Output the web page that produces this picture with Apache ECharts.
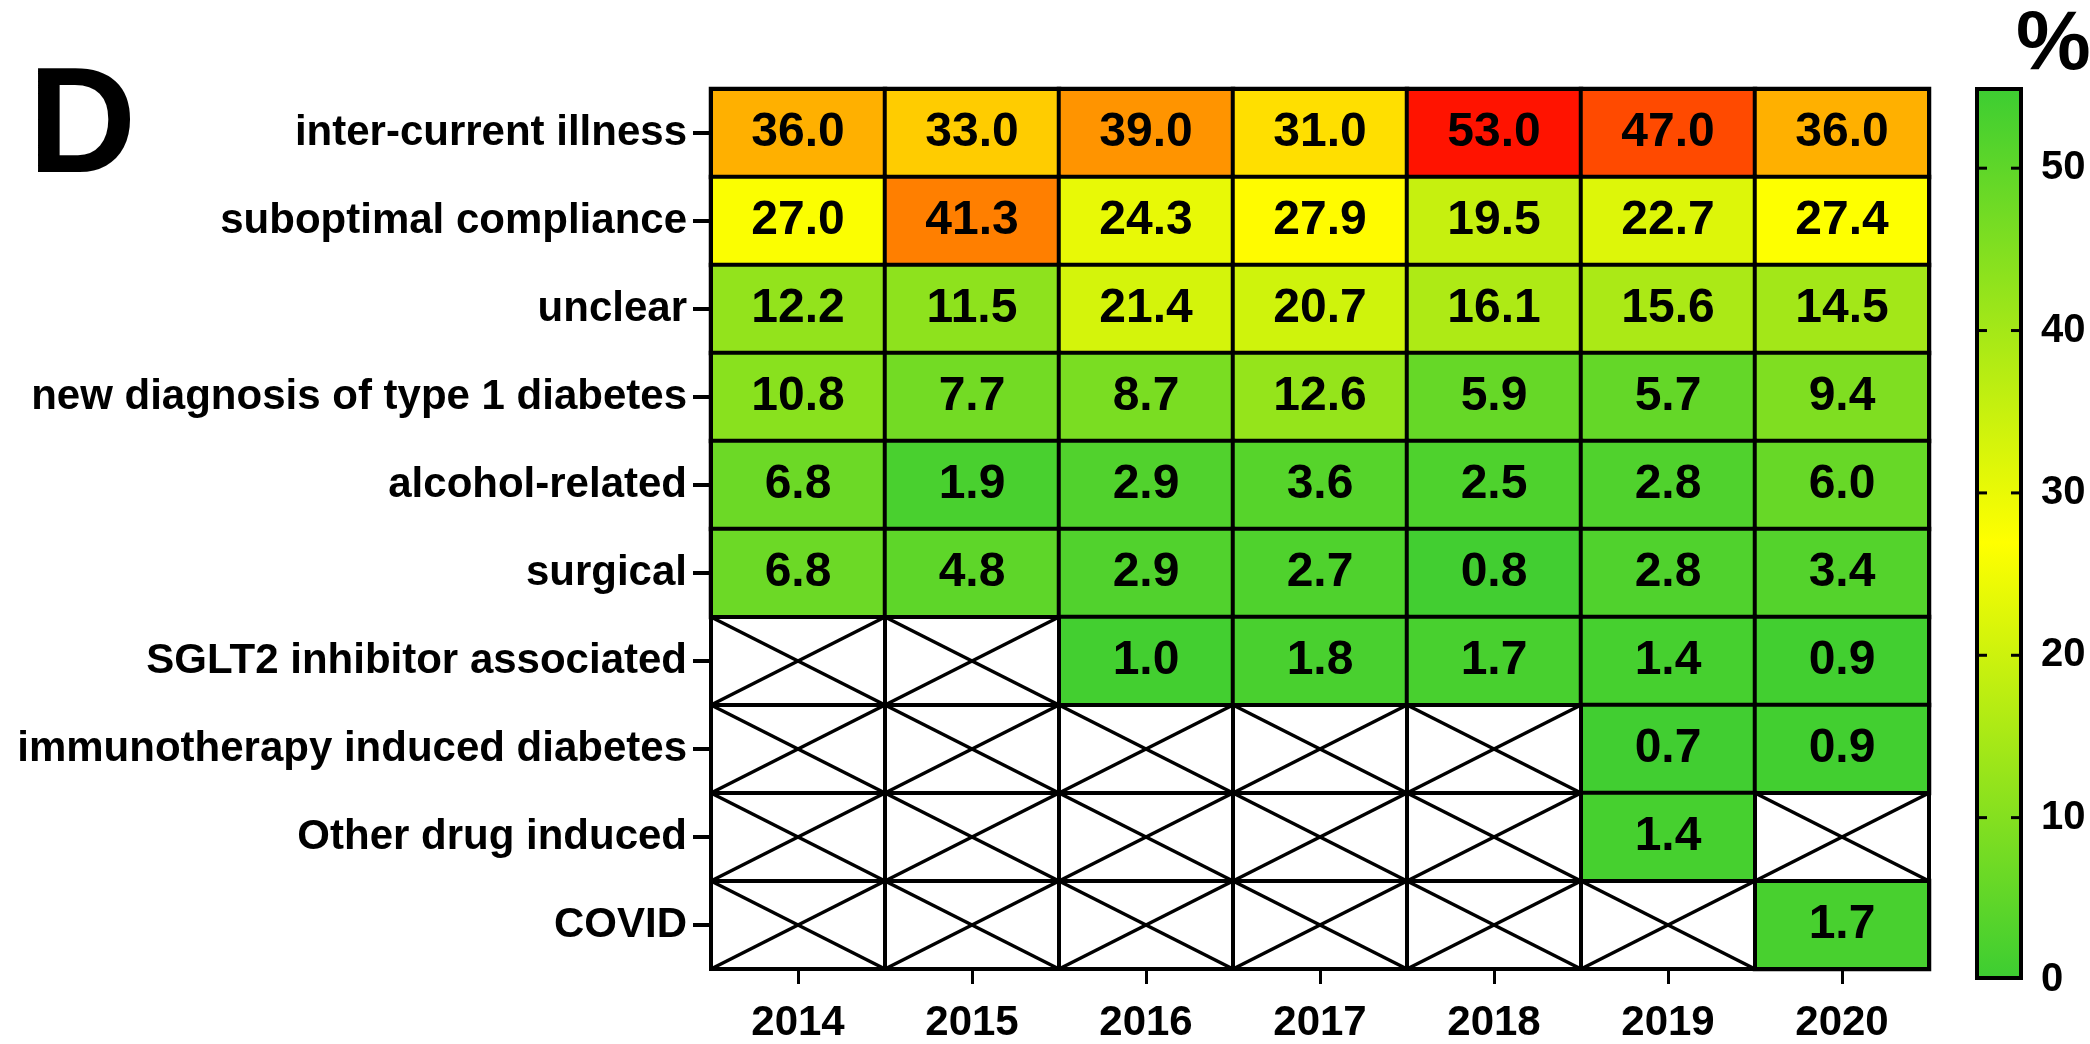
<!DOCTYPE html>
<html>
<head>
<meta charset="utf-8">
<script src="https://cdn.jsdelivr.net/npm/echarts@6/dist/echarts.min.js"></script>
<style>
  html, body { margin: 0; padding: 0; background: #ffffff; }
  #chart { width: 2090px; height: 1044px; }
</style>
</head>
<body>
<div id="chart"></div>
<script>
// Precipitating causes of DKA by year (% of episodes); null = not recorded that year
const years = ['2014', '2015', '2016', '2017', '2018', '2019', '2020'];
const causes = [
  'inter-current illness',
  'suboptimal compliance',
  'unclear',
  'new diagnosis of type 1 diabetes',
  'alcohol-related',
  'surgical',
  'SGLT2 inhibitor associated',
  'immunotherapy induced diabetes',
  'Other drug induced',
  'COVID'
];
const interCurrentIllness  = [36.0, 33.0, 39.0, 31.0, 53.0, 47.0, 36.0];
const suboptimalCompliance = [27.0, 41.3, 24.3, 27.9, 19.5, 22.7, 27.4];
const unclear              = [12.2, 11.5, 21.4, 20.7, 16.1, 15.6, 14.5];
const newDiagnosisT1D      = [10.8, 7.7, 8.7, 12.6, 5.9, 5.7, 9.4];
const alcoholRelated       = [6.8, 1.9, 2.9, 3.6, 2.5, 2.8, 6.0];
const surgical             = [6.8, 4.8, 2.9, 2.7, 0.8, 2.8, 3.4];
const sglt2Associated      = [null, null, 1.0, 1.8, 1.7, 1.4, 0.9];
const immunotherapyInduced = [null, null, null, null, null, 0.7, 0.9];
const otherDrugInduced     = [null, null, null, null, null, 1.4, null];
const covid                = [null, null, null, null, null, null, 1.7];

// colour scale
const scaleMin = 0;
const scaleMax = 55;
const colorbarTicks = [0, 10, 20, 30, 40, 50];

const rows = [
  interCurrentIllness, suboptimalCompliance, unclear, newDiagnosisT1D,
  alcoholRelated, surgical, sglt2Associated, immunotherapyInduced,
  otherDrugInduced, covid
];

const cells = [];
const missing = [];
rows.forEach(function (row, yi) {
  row.forEach(function (v, xi) {
    if (v === null) missing.push([xi, yi]);
    else cells.push([xi, yi, v]);
  });
});

const FONT = '"Liberation Sans", Arial, sans-serif';
const chart = echarts.init(document.getElementById('chart'), null, { renderer: 'canvas' });

const frameLine = { show: true, lineStyle: { color: '#000', width: 4 } };

chart.setOption({
  backgroundColor: '#ffffff',
  animation: false,
  textStyle: { fontFamily: FONT },
  grid: [
    { left: 711, right: 161, top: 89, bottom: 65 },
    { left: 1975, width: 48, top: 87, bottom: 64 }
  ],
  xAxis: [
    {
      type: 'category', gridIndex: 0, data: years, position: 'bottom', z: 10,
      axisLine: frameLine,
      axisTick: { show: true, length: 15, lineStyle: { color: '#000', width: 3 }, alignWithLabel: true },
      axisLabel: { color: '#000', fontSize: 42, fontWeight: 'bold', fontFamily: FONT, margin: 33, interval: 0 },
      splitLine: { show: false }
    },
    {
      type: 'category', gridIndex: 0, data: years, position: 'top', z: 10,
      axisLine: frameLine, axisTick: { show: false }, axisLabel: { show: false }
    },
    { type: 'category', gridIndex: 1, data: [''], show: false }
  ],
  yAxis: [
    {
      type: 'category', gridIndex: 0, data: causes, inverse: true, position: 'left', z: 10,
      axisLine: frameLine,
      axisTick: { show: true, length: 18, lineStyle: { color: '#000', width: 4 }, alignWithLabel: true },
      axisLabel: { color: '#000', fontSize: 42, fontWeight: 'bold', fontFamily: FONT, margin: 24, interval: 0 },
      splitLine: { show: false }
    },
    {
      type: 'category', gridIndex: 0, data: causes, inverse: true, position: 'right', z: 10,
      axisLine: frameLine, axisTick: { show: false }, axisLabel: { show: false }
    },
    {
      type: 'value', gridIndex: 1, min: scaleMin, max: scaleMax, position: 'right', z: 10,
      axisLine: { show: false },
      axisTick: { show: false },
      axisLabel: { color: '#000', fontSize: 40, fontWeight: 'bold', fontFamily: FONT, margin: 18, customValues: colorbarTicks },
      splitLine: { show: false }
    }
  ],
  visualMap: {
    show: false, type: 'continuous', seriesIndex: 0, dimension: 2,
    min: scaleMin, max: scaleMax,
    inRange: { color: ['#3ccd32', '#ffff00', '#ff0000'] }
  },
  series: [
    {
      type: 'heatmap', xAxisIndex: 0, yAxisIndex: 0, data: cells,
      itemStyle: { borderColor: '#000', borderWidth: 4 },
      label: {
        show: true, color: '#000', fontSize: 48, fontWeight: 'bold', fontFamily: FONT,
        formatter: function (p) { return p.value[2].toFixed(1); }
      },
      emphasis: { disabled: true }
    },
    {
      // categories not recorded in a given year: crossed-out white cells
      type: 'custom', xAxisIndex: 0, yAxisIndex: 0, data: missing,
      encode: { x: 0, y: 1 },
      renderItem: function (params, api) {
        const c = api.coord([api.value(0), api.value(1)]);
        const s = api.size([1, 1]);
        const x0 = c[0] - s[0] / 2, y0 = c[1] - s[1] / 2;
        const x1 = x0 + s[0], y1 = y0 + s[1];
        return {
          type: 'group',
          children: [
            { type: 'rect', shape: { x: x0, y: y0, width: s[0], height: s[1] }, style: { fill: '#fff', stroke: '#000', lineWidth: 4 } },
            { type: 'line', shape: { x1: x0, y1: y0, x2: x1, y2: y1 }, style: { stroke: '#000', lineWidth: 3.5 } },
            { type: 'line', shape: { x1: x1, y1: y0, x2: x0, y2: y1 }, style: { stroke: '#000', lineWidth: 3.5 } }
          ]
        };
      },
      silent: true
    },
    {
      // colour bar
      type: 'bar', xAxisIndex: 2, yAxisIndex: 2, data: [scaleMax], barWidth: '100%',
      itemStyle: {
        borderColor: '#000', borderWidth: 4,
        color: new echarts.graphic.LinearGradient(0, 0, 0, 1, [
          { offset: 0, color: '#3ccd32' },
          { offset: 0.51, color: '#ffff00' },
          { offset: 1, color: '#3ccd32' }
        ])
      },
      silent: true
    },
    {
      // short inward tick marks on both edges of the colour bar
      type: 'custom', xAxisIndex: 2, yAxisIndex: 2, z: 5,
      data: colorbarTicks.filter(function (v) { return v > scaleMin; }).map(function (v) { return [0, v]; }),
      encode: { x: 0, y: 1 },
      renderItem: function (params, api) {
        const c = api.coord([api.value(0), api.value(1)]);
        const w = api.size([1, 0])[0];
        const xl = c[0] - w / 2, xr = c[0] + w / 2;
        return {
          type: 'group',
          children: [
            { type: 'line', shape: { x1: xl, y1: c[1], x2: xl + 12, y2: c[1] }, style: { stroke: '#000', lineWidth: 3 } },
            { type: 'line', shape: { x1: xr - 12, y1: c[1], x2: xr, y2: c[1] }, style: { stroke: '#000', lineWidth: 3 } }
          ]
        };
      },
      silent: true
    }
  ],
  graphic: [
    {
      type: 'text', left: 28, top: 56,
      style: { text: 'D', fill: '#000', font: 'bold 150px ' + FONT }
    },
    {
      type: 'text', left: 2016, top: 4,
      style: { text: '%', fill: '#000', font: 'bold 84px ' + FONT }
    }
  ]
});
</script>
</body>
</html>
